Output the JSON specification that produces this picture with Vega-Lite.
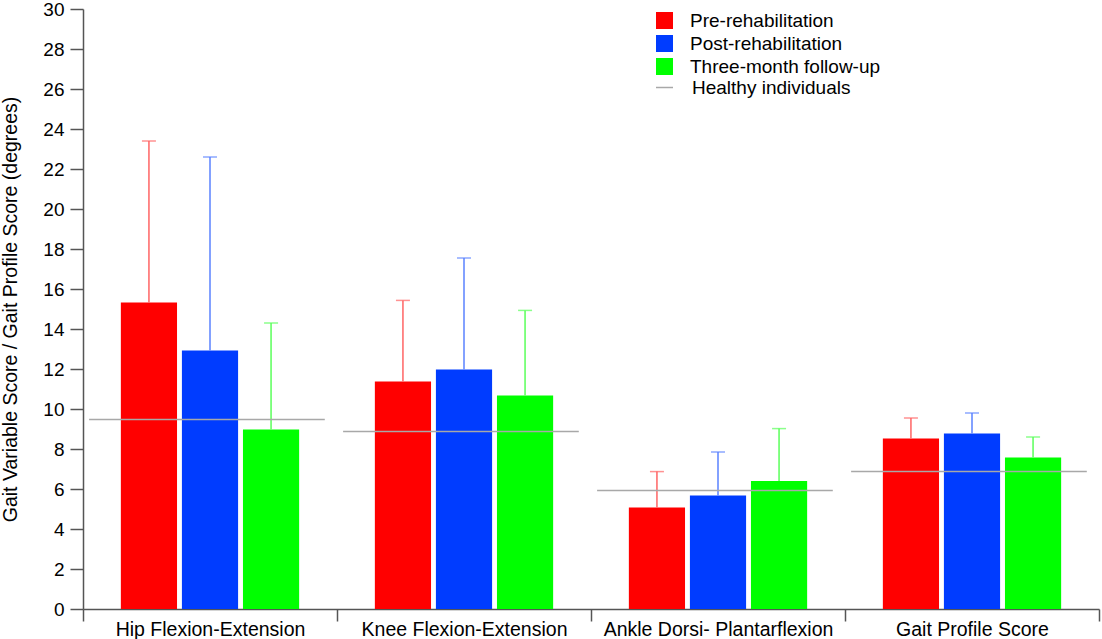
{
  "$schema": "https://vega.github.io/schema/vega-lite/v6.json",
  "width": 1016,
  "height": 600,
  "autosize": "none",
  "padding": {"left": 83, "top": 9, "right": 3, "bottom": 30},
  "background": "white",
  "datasets": {
    "bars": [
      {"joint": "Hip Flexion-Extension", "phase": "Pre-rehabilitation", "mean": 15.33, "upper": 23.4},
      {"joint": "Hip Flexion-Extension", "phase": "Post-rehabilitation", "mean": 12.93, "upper": 22.6},
      {"joint": "Hip Flexion-Extension", "phase": "Three-month follow-up", "mean": 8.97, "upper": 14.3},
      {"joint": "Knee Flexion-Extension", "phase": "Pre-rehabilitation", "mean": 11.37, "upper": 15.43},
      {"joint": "Knee Flexion-Extension", "phase": "Post-rehabilitation", "mean": 11.98, "upper": 17.55},
      {"joint": "Knee Flexion-Extension", "phase": "Three-month follow-up", "mean": 10.67, "upper": 14.93},
      {"joint": "Ankle Dorsi- Plantarflexion", "phase": "Pre-rehabilitation", "mean": 5.07, "upper": 6.87},
      {"joint": "Ankle Dorsi- Plantarflexion", "phase": "Post-rehabilitation", "mean": 5.68, "upper": 7.85},
      {"joint": "Ankle Dorsi- Plantarflexion", "phase": "Three-month follow-up", "mean": 6.4, "upper": 9.02},
      {"joint": "Gait Profile Score", "phase": "Pre-rehabilitation", "mean": 8.52, "upper": 9.55},
      {"joint": "Gait Profile Score", "phase": "Post-rehabilitation", "mean": 8.77, "upper": 9.8},
      {"joint": "Gait Profile Score", "phase": "Three-month follow-up", "mean": 7.57, "upper": 8.6}
    ],
    "healthy": [
      {"joint": "Hip Flexion-Extension", "ref": "Healthy individuals", "value": 9.47},
      {"joint": "Knee Flexion-Extension", "ref": "Healthy individuals", "value": 8.88},
      {"joint": "Ankle Dorsi- Plantarflexion", "ref": "Healthy individuals", "value": 5.93},
      {"joint": "Gait Profile Score", "ref": "Healthy individuals", "value": 6.88}
    ]
  },
  "encoding": {
    "x": {
      "field": "joint",
      "type": "nominal",
      "sort": null,
      "title": null,
      "scale": {"paddingInner": 0, "paddingOuter": 0},
      "axis": {
        "tickBand": "extent",
        "labelAngle": 0,
        "labelFontSize": 19.5,
        "labelFont": "Liberation Sans",
        "labelColor": "black",
        "labelLimit": 0,
        "labelPadding": -1,
        "tickSize": 12,
        "tickColor": "#555",
        "domainColor": "#555",
        "tickWidth": 1.5,
        "domainWidth": 1.5
      }
    }
  },
  "layer": [
    {
      "data": {"name": "bars"},
      "mark": {"type": "bar"},
      "encoding": {
        "xOffset": {
          "field": "phase",
          "sort": null,
          "scale": {"paddingInner": 0.08, "paddingOuter": 0.62}
        },
        "y": {
          "field": "mean",
          "type": "quantitative",
          "title": "Gait Variable Score / Gait Profile Score (degrees)",
          "scale": {"domain": [0, 30]},
          "axis": {
            "values": [0, 2, 4, 6, 8, 10, 12, 14, 16, 18, 20, 22, 24, 26, 28, 30],
            "tickCount": 20
          }
        },
        "color": {
          "field": "phase",
          "type": "nominal",
          "sort": null,
          "scale": {
            "domain": ["Pre-rehabilitation", "Post-rehabilitation", "Three-month follow-up"],
            "range": ["#ff0000", "#003cff", "#00ff00"]
          },
          "legend": {
            "title": null,
            "orient": "none",
            "legendX": 572,
            "legendY": 2,
            "symbolType": "square",
            "symbolSize": 289,
            "symbolStrokeWidth": 0,
            "labelFontSize": 19,
            "labelFont": "Liberation Sans",
            "labelColor": "black",
            "labelLimit": 0,
            "labelOffset": 16,
            "rowPadding": 3
          }
        }
      }
    },
    {
      "data": {"name": "bars"},
      "mark": {"type": "rule", "strokeWidth": 1.5},
      "encoding": {
        "xOffset": {"field": "phase", "sort": null},
        "y": {"field": "mean", "type": "quantitative"},
        "y2": {"field": "upper"},
        "stroke": {
          "field": "phase",
          "type": "nominal",
          "scale": {
            "domain": ["Pre-rehabilitation", "Post-rehabilitation", "Three-month follow-up"],
            "range": ["#ff6464", "#5a82ff", "#5aff5a"]
          },
          "legend": null
        }
      }
    },
    {
      "data": {"name": "bars"},
      "mark": {"type": "tick", "size": 14, "thickness": 1.5},
      "encoding": {
        "xOffset": {"field": "phase", "sort": null},
        "y": {"field": "upper", "type": "quantitative"},
        "color": {
          "field": "phase",
          "type": "nominal",
          "scale": {
            "domain": ["Pre-rehabilitation", "Post-rehabilitation", "Three-month follow-up"],
            "range": ["#ff6464", "#5a82ff", "#5aff5a"]
          },
          "legend": null
        }
      }
    },
    {
      "data": {"name": "healthy"},
      "mark": {"type": "rule", "strokeWidth": 1.5},
      "encoding": {
        "x": {"field": "joint", "type": "nominal", "sort": null, "bandPosition": 0.024},
        "x2": {"field": "joint", "bandPosition": 0.952},
        "y": {"field": "value", "type": "quantitative"},
        "stroke": {
          "field": "ref",
          "type": "nominal",
          "scale": {"range": ["#a8a8a8"]},
          "legend": {
            "title": null,
            "orient": "none",
            "legendX": 572,
            "legendY": 69,
            "symbolType": "stroke",
            "symbolSize": 289,
            "symbolStrokeWidth": 1.5,
            "labelFontSize": 19,
            "labelFont": "Liberation Sans",
            "labelColor": "black",
            "labelLimit": 0,
            "labelOffset": 18
          }
        }
      }
    }
  ],
  "resolve": {"scale": {"color": "independent", "stroke": "independent"}, "legend": {"color": "independent", "stroke": "independent"}},
  "config": {
    "view": {"stroke": null},
    "axisY": {
      "labelOverlap": false,
      "grid": false,
      "labelFontSize": 19,
      "labelFont": "Liberation Sans",
      "labelColor": "black",
      "labelPadding": 6,
      "tickSize": 13,
      "tickColor": "#555",
      "domainColor": "#555",
      "tickWidth": 1.5,
      "domainWidth": 1.5,
      "titleFont": "Liberation Sans",
      "titleFontSize": 19.5,
      "titleFontWeight": "normal",
      "titleColor": "black",
      "titlePadding": 22
    }
  }
}
